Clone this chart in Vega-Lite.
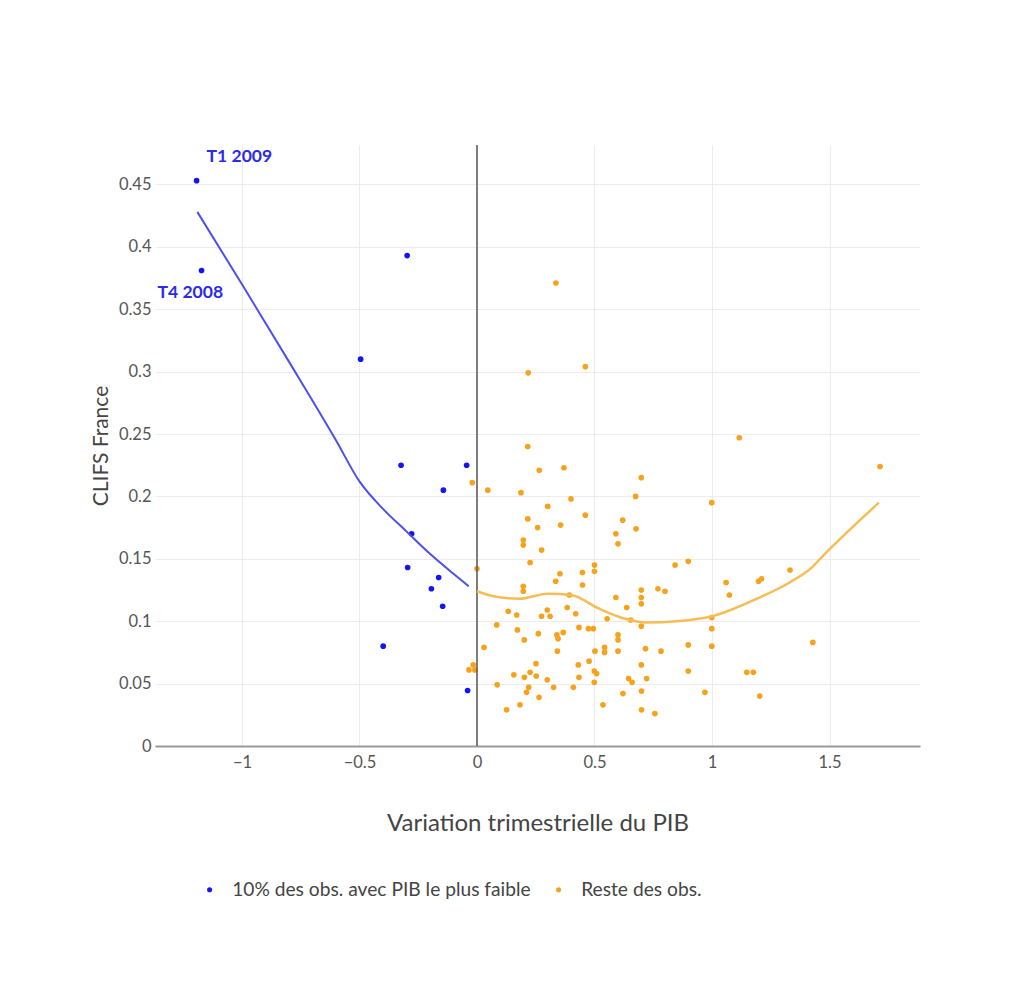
{
  "$schema": "https://vega.github.io/schema/vega-lite/v6.json",
  "autosize": "none",
  "width": 765,
  "height": 601,
  "padding": {"left": 155, "top": 145, "right": 104, "bottom": 254},
  "background": "white",
  "config": {
    "view": {"stroke": null},
    "font": "Lato",
    "axis": {"labelFont": "Lato", "titleFont": "Lato", "gridColor": "#ececec", "gridWidth": 1, "ticks": false, "labelColor": "#555", "titleColor": "#444", "titleFontWeight": "normal"},
    "legend": {"labelFont": "Lato"}
  },
  "datasets": {
    "pts": [
      {"x": -1.193, "y": 0.453, "g": "10% des obs. avec PIB le plus faible"},
      {"x": -1.172, "y": 0.381, "g": "10% des obs. avec PIB le plus faible"},
      {"x": -0.297, "y": 0.393, "g": "10% des obs. avec PIB le plus faible"},
      {"x": -0.495, "y": 0.310, "g": "10% des obs. avec PIB le plus faible"},
      {"x": -0.323, "y": 0.225, "g": "10% des obs. avec PIB le plus faible"},
      {"x": -0.044, "y": 0.225, "g": "10% des obs. avec PIB le plus faible"},
      {"x": -0.143, "y": 0.205, "g": "10% des obs. avec PIB le plus faible"},
      {"x": -0.278, "y": 0.170, "g": "10% des obs. avec PIB le plus faible"},
      {"x": -0.295, "y": 0.143, "g": "10% des obs. avec PIB le plus faible"},
      {"x": -0.163, "y": 0.135, "g": "10% des obs. avec PIB le plus faible"},
      {"x": -0.194, "y": 0.126, "g": "10% des obs. avec PIB le plus faible"},
      {"x": -0.146, "y": 0.112, "g": "10% des obs. avec PIB le plus faible"},
      {"x": -0.399, "y": 0.080, "g": "10% des obs. avec PIB le plus faible"},
      {"x": -0.040, "y": 0.0445, "g": "10% des obs. avec PIB le plus faible"},
      {"x": 0.336, "y": 0.371, "g": "Reste des obs."},
      {"x": 0.218, "y": 0.299, "g": "Reste des obs."},
      {"x": 0.461, "y": 0.304, "g": "Reste des obs."},
      {"x": 0.216, "y": 0.240, "g": "Reste des obs."},
      {"x": 1.116, "y": 0.247, "g": "Reste des obs."},
      {"x": 1.715, "y": 0.224, "g": "Reste des obs."},
      {"x": 0.265, "y": 0.221, "g": "Reste des obs."},
      {"x": 0.370, "y": 0.223, "g": "Reste des obs."},
      {"x": 0.699, "y": 0.215, "g": "Reste des obs."},
      {"x": -0.020, "y": 0.211, "g": "Reste des obs."},
      {"x": 0.046, "y": 0.205, "g": "Reste des obs."},
      {"x": 0.187, "y": 0.203, "g": "Reste des obs."},
      {"x": 0.400, "y": 0.198, "g": "Reste des obs."},
      {"x": 0.301, "y": 0.192, "g": "Reste des obs."},
      {"x": 0.675, "y": 0.200, "g": "Reste des obs."},
      {"x": 0.999, "y": 0.195, "g": "Reste des obs."},
      {"x": 0.216, "y": 0.182, "g": "Reste des obs."},
      {"x": 0.461, "y": 0.185, "g": "Reste des obs."},
      {"x": 0.620, "y": 0.181, "g": "Reste des obs."},
      {"x": 0.258, "y": 0.175, "g": "Reste des obs."},
      {"x": 0.356, "y": 0.177, "g": "Reste des obs."},
      {"x": 0.677, "y": 0.174, "g": "Reste des obs."},
      {"x": 0.591, "y": 0.170, "g": "Reste des obs."},
      {"x": 0.600, "y": 0.162, "g": "Reste des obs."},
      {"x": 0.197, "y": 0.165, "g": "Reste des obs."},
      {"x": 0.197, "y": 0.161, "g": "Reste des obs."},
      {"x": 0.275, "y": 0.157, "g": "Reste des obs."},
      {"x": 0.226, "y": 0.147, "g": "Reste des obs."},
      {"x": 0.843, "y": 0.145, "g": "Reste des obs."},
      {"x": 0.899, "y": 0.148, "g": "Reste des obs."},
      {"x": 0.000, "y": 0.142, "g": "Reste des obs."},
      {"x": 0.353, "y": 0.138, "g": "Reste des obs."},
      {"x": 0.335, "y": 0.132, "g": "Reste des obs."},
      {"x": 0.449, "y": 0.139, "g": "Reste des obs."},
      {"x": 0.500, "y": 0.145, "g": "Reste des obs."},
      {"x": 0.500, "y": 0.140, "g": "Reste des obs."},
      {"x": 0.449, "y": 0.129, "g": "Reste des obs."},
      {"x": 0.197, "y": 0.128, "g": "Reste des obs."},
      {"x": 0.197, "y": 0.124, "g": "Reste des obs."},
      {"x": 0.393, "y": 0.121, "g": "Reste des obs."},
      {"x": 0.699, "y": 0.125, "g": "Reste des obs."},
      {"x": 0.699, "y": 0.119, "g": "Reste des obs."},
      {"x": 0.699, "y": 0.114, "g": "Reste des obs."},
      {"x": 0.770, "y": 0.126, "g": "Reste des obs."},
      {"x": 0.800, "y": 0.124, "g": "Reste des obs."},
      {"x": 0.591, "y": 0.119, "g": "Reste des obs."},
      {"x": 0.637, "y": 0.111, "g": "Reste des obs."},
      {"x": 1.060, "y": 0.131, "g": "Reste des obs."},
      {"x": 1.074, "y": 0.121, "g": "Reste des obs."},
      {"x": 1.198, "y": 0.132, "g": "Reste des obs."},
      {"x": 1.211, "y": 0.134, "g": "Reste des obs."},
      {"x": 1.332, "y": 0.141, "g": "Reste des obs."},
      {"x": 0.133, "y": 0.108, "g": "Reste des obs."},
      {"x": 0.169, "y": 0.105, "g": "Reste des obs."},
      {"x": 0.299, "y": 0.109, "g": "Reste des obs."},
      {"x": 0.275, "y": 0.104, "g": "Reste des obs."},
      {"x": 0.311, "y": 0.104, "g": "Reste des obs."},
      {"x": 0.384, "y": 0.111, "g": "Reste des obs."},
      {"x": 0.420, "y": 0.106, "g": "Reste des obs."},
      {"x": 0.554, "y": 0.102, "g": "Reste des obs."},
      {"x": 0.654, "y": 0.101, "g": "Reste des obs."},
      {"x": 0.699, "y": 0.096, "g": "Reste des obs."},
      {"x": 0.999, "y": 0.103, "g": "Reste des obs."},
      {"x": 0.999, "y": 0.094, "g": "Reste des obs."},
      {"x": 0.084, "y": 0.097, "g": "Reste des obs."},
      {"x": 0.172, "y": 0.093, "g": "Reste des obs."},
      {"x": 0.201, "y": 0.085, "g": "Reste des obs."},
      {"x": 0.261, "y": 0.090, "g": "Reste des obs."},
      {"x": 0.340, "y": 0.089, "g": "Reste des obs."},
      {"x": 0.367, "y": 0.091, "g": "Reste des obs."},
      {"x": 0.345, "y": 0.086, "g": "Reste des obs."},
      {"x": 0.434, "y": 0.095, "g": "Reste des obs."},
      {"x": 0.474, "y": 0.094, "g": "Reste des obs."},
      {"x": 0.495, "y": 0.094, "g": "Reste des obs."},
      {"x": 0.600, "y": 0.089, "g": "Reste des obs."},
      {"x": 0.600, "y": 0.085, "g": "Reste des obs."},
      {"x": 0.030, "y": 0.079, "g": "Reste des obs."},
      {"x": 0.342, "y": 0.076, "g": "Reste des obs."},
      {"x": 0.502, "y": 0.076, "g": "Reste des obs."},
      {"x": 0.543, "y": 0.079, "g": "Reste des obs."},
      {"x": 0.543, "y": 0.075, "g": "Reste des obs."},
      {"x": 0.600, "y": 0.076, "g": "Reste des obs."},
      {"x": 0.717, "y": 0.078, "g": "Reste des obs."},
      {"x": 0.783, "y": 0.076, "g": "Reste des obs."},
      {"x": 0.899, "y": 0.081, "g": "Reste des obs."},
      {"x": 0.999, "y": 0.080, "g": "Reste des obs."},
      {"x": 1.429, "y": 0.083, "g": "Reste des obs."},
      {"x": -0.016, "y": 0.065, "g": "Reste des obs."},
      {"x": -0.034, "y": 0.061, "g": "Reste des obs."},
      {"x": -0.009, "y": 0.061, "g": "Reste des obs."},
      {"x": 0.251, "y": 0.066, "g": "Reste des obs."},
      {"x": 0.431, "y": 0.065, "g": "Reste des obs."},
      {"x": 0.477, "y": 0.068, "g": "Reste des obs."},
      {"x": 0.499, "y": 0.060, "g": "Reste des obs."},
      {"x": 0.509, "y": 0.058, "g": "Reste des obs."},
      {"x": 0.699, "y": 0.065, "g": "Reste des obs."},
      {"x": 0.157, "y": 0.057, "g": "Reste des obs."},
      {"x": 0.226, "y": 0.059, "g": "Reste des obs."},
      {"x": 0.202, "y": 0.055, "g": "Reste des obs."},
      {"x": 0.252, "y": 0.056, "g": "Reste des obs."},
      {"x": 0.299, "y": 0.053, "g": "Reste des obs."},
      {"x": 0.434, "y": 0.055, "g": "Reste des obs."},
      {"x": 0.645, "y": 0.054, "g": "Reste des obs."},
      {"x": 0.660, "y": 0.051, "g": "Reste des obs."},
      {"x": 0.722, "y": 0.054, "g": "Reste des obs."},
      {"x": 0.899, "y": 0.060, "g": "Reste des obs."},
      {"x": 1.148, "y": 0.059, "g": "Reste des obs."},
      {"x": 1.176, "y": 0.059, "g": "Reste des obs."},
      {"x": 0.086, "y": 0.049, "g": "Reste des obs."},
      {"x": 0.220, "y": 0.047, "g": "Reste des obs."},
      {"x": 0.211, "y": 0.043, "g": "Reste des obs."},
      {"x": 0.326, "y": 0.047, "g": "Reste des obs."},
      {"x": 0.410, "y": 0.047, "g": "Reste des obs."},
      {"x": 0.499, "y": 0.051, "g": "Reste des obs."},
      {"x": 0.700, "y": 0.044, "g": "Reste des obs."},
      {"x": 0.621, "y": 0.042, "g": "Reste des obs."},
      {"x": 0.970, "y": 0.043, "g": "Reste des obs."},
      {"x": 1.203, "y": 0.040, "g": "Reste des obs."},
      {"x": 0.264, "y": 0.039, "g": "Reste des obs."},
      {"x": 0.183, "y": 0.033, "g": "Reste des obs."},
      {"x": 0.126, "y": 0.029, "g": "Reste des obs."},
      {"x": 0.536, "y": 0.033, "g": "Reste des obs."},
      {"x": 0.700, "y": 0.029, "g": "Reste des obs."},
      {"x": 0.757, "y": 0.026, "g": "Reste des obs."}
    ],
    "fit": [
      {"x": -1.19, "y": 0.428, "g": "low"},
      {"x": -1.0, "y": 0.370, "g": "low"},
      {"x": -0.8, "y": 0.308, "g": "low"},
      {"x": -0.6, "y": 0.245, "g": "low"},
      {"x": -0.5, "y": 0.212, "g": "low"},
      {"x": -0.4, "y": 0.190, "g": "low"},
      {"x": -0.3, "y": 0.172, "g": "low"},
      {"x": -0.2, "y": 0.154, "g": "low"},
      {"x": -0.1, "y": 0.138, "g": "low"},
      {"x": -0.035, "y": 0.128, "g": "low"},
      {"x": 0.0, "y": 0.124, "g": "rest"},
      {"x": 0.07, "y": 0.120, "g": "rest"},
      {"x": 0.18, "y": 0.118, "g": "rest"},
      {"x": 0.30, "y": 0.122, "g": "rest"},
      {"x": 0.40, "y": 0.121, "g": "rest"},
      {"x": 0.52, "y": 0.110, "g": "rest"},
      {"x": 0.63, "y": 0.102, "g": "rest"},
      {"x": 0.72, "y": 0.099, "g": "rest"},
      {"x": 0.85, "y": 0.100, "g": "rest"},
      {"x": 1.0, "y": 0.104, "g": "rest"},
      {"x": 1.19, "y": 0.118, "g": "rest"},
      {"x": 1.33, "y": 0.131, "g": "rest"},
      {"x": 1.43, "y": 0.144, "g": "rest"},
      {"x": 1.47, "y": 0.152, "g": "rest"},
      {"x": 1.59, "y": 0.174, "g": "rest"},
      {"x": 1.71, "y": 0.195, "g": "rest"}
    ],
    "labels": [
      {"x": -1.193, "y": 0.453, "t": "T1 2009"},
      {"x": -1.172, "y": 0.381, "t": "T4 2008"}
    ]
  },
  "layer": [
    {
      "data": {"name": "pts"},
      "mark": {"type": "point", "filled": true, "opacity": 1, "size": 32},
      "encoding": {
        "x": {"field": "x", "type": "quantitative",
          "scale": {"domain": [-1.37, 1.885], "nice": false, "zero": false},
          "axis": {"values": [-1, -0.5, 0, 0.5, 1, 1.5], "format": "~g", "labelFontSize": 16.5, "labelPadding": 8,
            "domainColor": "#9a9a9a", "domainWidth": 2, "title": "Variation trimestrielle du PIB", "titleFontSize": 24, "titlePadding": 41}},
        "y": {"field": "y", "type": "quantitative",
          "scale": {"domain": [0, 0.4816], "nice": false},
          "axis": {"values": [0, 0.05, 0.1, 0.15, 0.2, 0.25, 0.3, 0.35, 0.4, 0.45], "format": ".2~f", "labelFontSize": 16.5, "labelPadding": 4,
            "domain": false, "title": "CLIFS France", "titleFontSize": 21, "titlePadding": 7}},
        "color": {"field": "g", "type": "nominal",
          "scale": {"domain": ["10% des obs. avec PIB le plus faible", "Reste des obs."], "range": ["#1414f5", "#f7a21b"]},
          "legend": {"title": null, "orient": "none", "direction": "horizontal", "legendX": 45, "legendY": 735, "padding": 0,
            "symbolType": "circle", "symbolSize": 26, "labelFontSize": 19.2, "labelColor": "#444", "labelOffset": 13, "labelLimit": 0, "columnPadding": 18}}
      }
    },
    {
      "data": {"values": [{"z": 0}]},
      "mark": {"type": "rule", "color": "#555", "strokeWidth": 1.5},
      "encoding": {"x": {"field": "z", "type": "quantitative"}}
    },
    {
      "data": {"name": "fit"},
      "transform": [{"filter": "datum.g == 'low'"}],
      "mark": {"type": "line", "color": "#4f4ff0", "strokeWidth": 2, "interpolate": "monotone"},
      "encoding": {"x": {"field": "x", "type": "quantitative"}, "y": {"field": "y", "type": "quantitative"}}
    },
    {
      "data": {"name": "fit"},
      "transform": [{"filter": "datum.g == 'rest'"}],
      "mark": {"type": "line", "color": "#f6bd55", "strokeWidth": 2.5, "interpolate": "monotone"},
      "encoding": {"x": {"field": "x", "type": "quantitative"}, "y": {"field": "y", "type": "quantitative"}}
    },
    {
      "data": {"name": "labels"},
      "transform": [{"filter": "datum.t == 'T1 2009'"}],
      "mark": {"type": "text", "align": "left", "baseline": "middle", "dx": 10, "dy": -24, "fontSize": 17.5, "fontWeight": "bold", "color": "#2a2af0"},
      "encoding": {"x": {"field": "x", "type": "quantitative"}, "y": {"field": "y", "type": "quantitative"}, "text": {"field": "t"}}
    },
    {
      "data": {"name": "labels"},
      "transform": [{"filter": "datum.t == 'T4 2008'"}],
      "mark": {"type": "text", "align": "left", "baseline": "middle", "dx": -44, "dy": 22, "fontSize": 17.5, "fontWeight": "bold", "color": "#2a2af0"},
      "encoding": {"x": {"field": "x", "type": "quantitative"}, "y": {"field": "y", "type": "quantitative"}, "text": {"field": "t"}}
    }
  ]
}
